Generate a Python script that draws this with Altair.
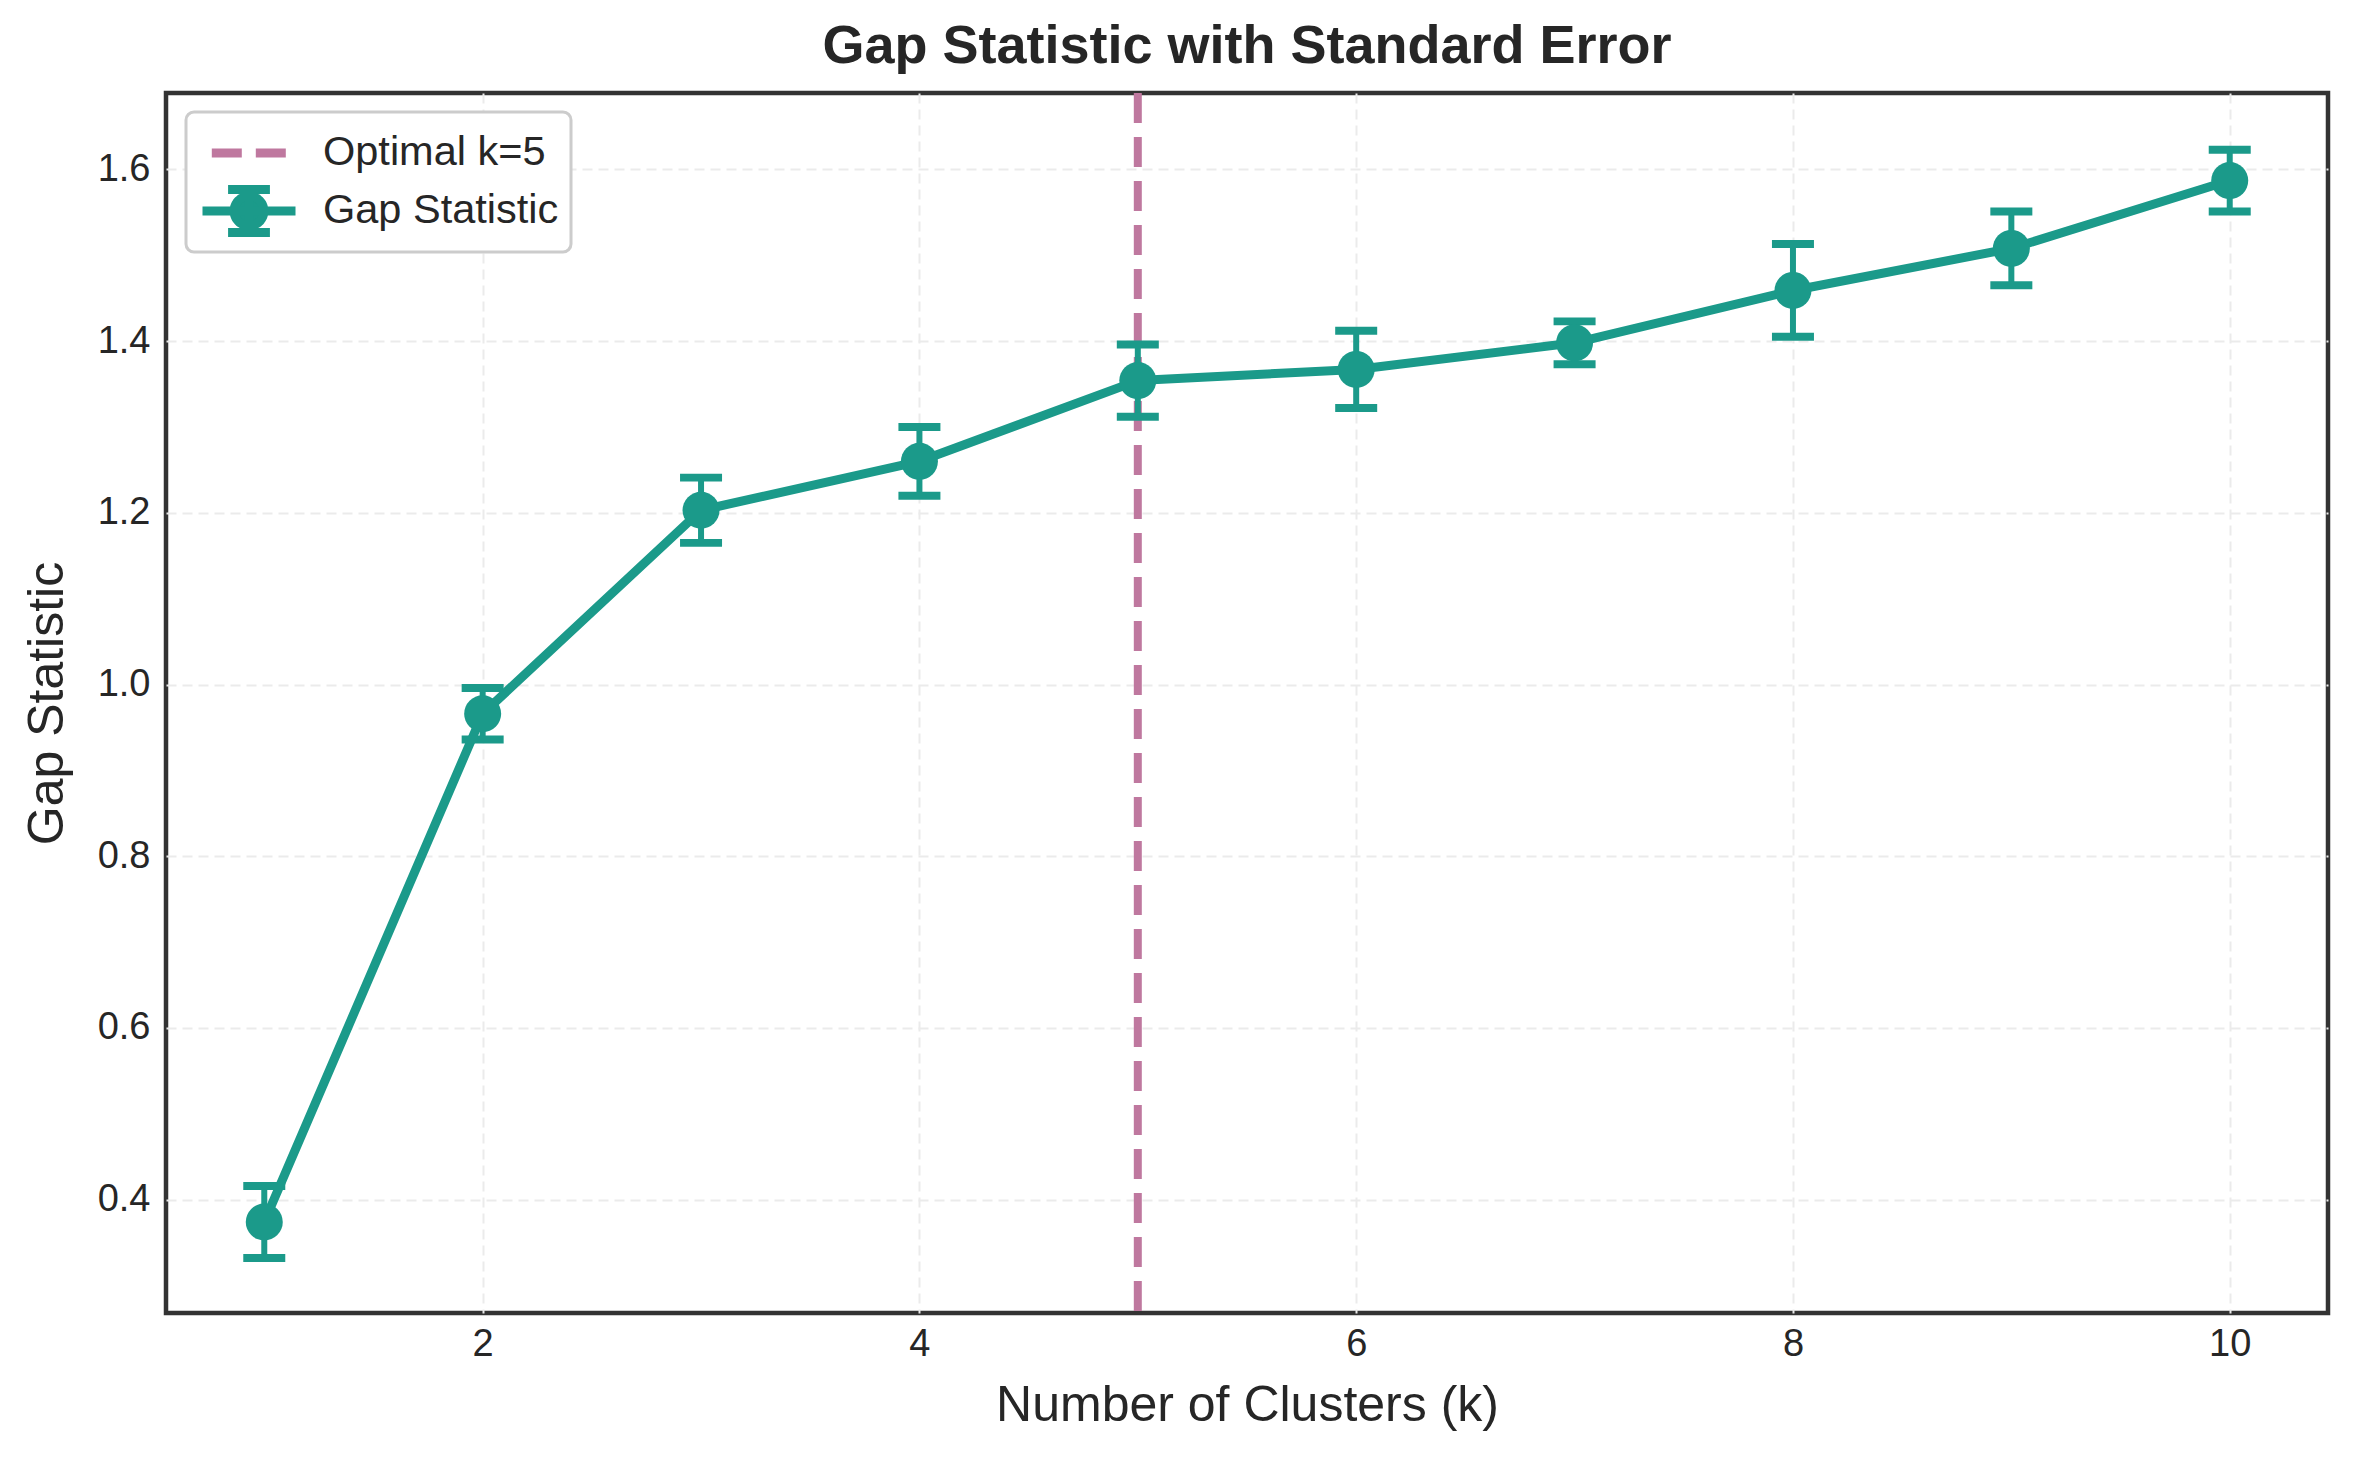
import altair as alt
import pandas as pd

# ---- data ----
k_values = [1, 2, 3, 4, 5, 6, 7, 8, 9, 10]
gap_values = [0.374, 0.966, 1.203, 1.260, 1.354, 1.367, 1.398, 1.459, 1.508, 1.587]
se_values = [0.042, 0.030, 0.038, 0.040, 0.042, 0.045, 0.025, 0.054, 0.043, 0.036]
optimal_k = [5]
legend_labels = ["Optimal k=5", "Gap Statistic"]
x_ticks = [2, 4, 6, 8, 10]
y_ticks = [0.4, 0.6, 0.8, 1.0, 1.2, 1.4, 1.6]

TEAL = "#1b9a8a"
PINK = "#bf789f"
FONT = "Liberation Sans"
TXT = "#262626"

df = pd.DataFrame({"k": k_values, "gap": gap_values, "se": se_values})
df["lo"] = df["gap"] - df["se"]
df["hi"] = df["gap"] + df["se"]
opt_df = pd.DataFrame({"k": optimal_k})
leg_df = pd.DataFrame({"series": legend_labels})

x_scale = alt.Scale(domain=[0.55, 10.45], nice=False, zero=False)
y_scale = alt.Scale(domain=[0.268, 1.689], nice=False, zero=False)

x_enc = alt.X("k:Q", scale=x_scale, title="Number of Clusters (k)",
              axis=alt.Axis(values=x_ticks, format="d"))
y_enc = alt.Y("gap:Q", scale=y_scale, title="Gap Statistic",
              axis=alt.Axis(values=y_ticks, format=".1f"))

base = alt.Chart(df)

line = base.mark_line(color=TEAL, strokeWidth=9, strokeCap="round", strokeJoin="round").encode(
    x=x_enc, y=y_enc)

stems = base.mark_rule(color=TEAL, strokeWidth=6).encode(
    x=alt.X("k:Q", scale=x_scale), y=alt.Y("lo:Q", scale=y_scale), y2="hi:Q")

cap_shape = "M-1,-0.19L1,-0.19L1,0.19L-1,0.19Z"
caps_lo = base.mark_point(shape=cap_shape, filled=True, color=TEAL, size=1764, opacity=1, strokeWidth=0).encode(
    x=alt.X("k:Q", scale=x_scale), y=alt.Y("lo:Q", scale=y_scale))
caps_hi = base.mark_point(shape=cap_shape, filled=True, color=TEAL, size=1764, opacity=1, strokeWidth=0).encode(
    x=alt.X("k:Q", scale=x_scale), y=alt.Y("hi:Q", scale=y_scale))

points = base.mark_circle(color=TEAL, size=1369, opacity=1).encode(x=x_enc, y=y_enc)

rule = alt.Chart(opt_df).mark_rule(color=PINK, strokeWidth=8, strokeDash=[30, 14]).encode(
    x=alt.X("k:Q", scale=x_scale))

# legend-only layer (no marks drawn, explicit scale domains drive the legend)
dash_path = "M-0.8,0L0.8,0"
gap_path = ("M-1,0L1,0 "
            "M0,-0.46L0,0.46 "
            "M-0.45,-0.46L0.45,-0.46 M-0.45,0.46L0.45,0.46 "
            "M0.32,0A0.32,0.32 0 1,1 -0.32,0A0.32,0.32 0 1,1 0.32,0Z")
leg = alt.Legend(title=None, orient="none", legendX=20, legendY=19)
legend_layer = alt.Chart(leg_df).transform_filter("datum.series == 'none'").mark_point(
    filled=True, strokeWidth=9, size=8649).encode(
    fill=alt.Fill("series:N", scale=alt.Scale(domain=legend_labels, range=[PINK, TEAL]), legend=leg),
    stroke=alt.Stroke("series:N", scale=alt.Scale(domain=legend_labels, range=[PINK, TEAL]), legend=leg),
    shape=alt.Shape("series:N", scale=alt.Scale(domain=legend_labels, range=[dash_path, gap_path]), legend=leg),
    strokeDash=alt.StrokeDash("series:N", scale=alt.Scale(domain=legend_labels, range=[[30, 14], [1, 0]]), legend=leg),
)

chart = alt.layer(rule, line, stems, caps_lo, caps_hi, points, legend_layer).properties(
    width=2162,
    height=1220,
    title=alt.TitleParams("Gap Statistic with Standard Error", fontSize=54, font=FONT,
                          fontWeight="bold", color=TXT, anchor="middle", offset=15),
    autosize=alt.AutoSizeParams(type="none"),
    padding={"left": 158, "top": 85, "right": 25, "bottom": 139},
).configure_view(
    stroke="#333333", strokeWidth=4.5
).configure_axis(
    grid=True, gridColor="#ebebeb", gridWidth=2, gridDash=[10, 6],
    domain=False, ticks=False, tickSize=0,
    labelFont=FONT, labelFontSize=38, labelColor=TXT,
    titleFont=FONT, titleFontSize=50, titleColor=TXT, titleFontWeight="normal",
).configure_axisX(
    labelPadding=12, titlePadding=17
).configure_axisY(
    labelPadding=16, titlePadding=25
).configure_legend(
    fillColor="white", strokeColor="#cccccc", strokeWidth=3, cornerRadius=8,
    padding=12, labelFont=FONT, labelFontSize=41.5, labelColor=TXT, labelLimit=800,
    symbolSize=8649, symbolStrokeWidth=9, labelOffset=23, clipHeight=58, rowPadding=0,
    symbolOpacity=1,
)

chart.save("out.html", embed_options={"renderer": "svg", "actions": False})
